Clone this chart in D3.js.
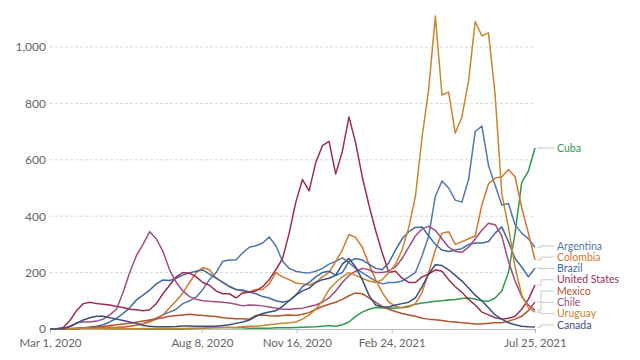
<!DOCTYPE html>
<html><head><meta charset="utf-8">
<script src="https://cdn.jsdelivr.net/npm/d3@7"></script>
<style>
html,body{margin:0;padding:0;background:#fff;}
svg{display:block;font-family:Lato,"Noto Sans",sans-serif;}
</style></head><body>
<svg id="chart" width="640" height="360"></svg>
<script>
// ---- data: weekly 7-day average of daily new cases per million, Mar 1 2020 .. Jul 25 2021
const startDate = "2020-03-01";
const endDate = "2021-07-25";
const countries = ["Cuba","Argentina","Colombia","Brazil","United States","Mexico","Chile","Uruguay","Canada"];
const cuba = [0,0,0,1,2,3,4,4,3,2, 1,1,1,1,0,0,0,0,0,0, 0,1,2,3,4,5,5,5,4,4, 3,3,3,3,4,4,4,5,6,7,
  8,10,12,10,15,25,45,60,70,76, 75,74,74,76,82,88,92,95,98,100, 103,105,108,110,106,100,98,110,135,200, 340,520,560,642];
const argentina = [0,0,0,1,2,2,2,2,3,4, 5,7,10,14,20,28,38,50,60,70, 90,100,113,140,175,200,240,245,245,270,
  290,295,305,326,295,240,215,205,200,199, 205,215,230,240,252,235,215,200,185,170, 160,165,165,170,185,200,260,330,470,525,
  500,457,450,530,700,720,580,510,440,445, 370,340,320,290];
const colombia = [0,0,0,1,2,3,3,4,5,7, 5,7,10,13,18,25,35,50,75,100, 128,165,200,218,210,181,165,152,140,135,
  131,140,140,160,200,185,175,163,160,156, 165,185,200,240,280,335,325,290,230,175, 130,95,80,75,78,90,130,200,280,340,
  345,300,310,320,330,440,515,535,540,565, 540,430,340,245];
const brazil = [0,0,0,1,2,4,7,10,15,25, 38,55,75,103,120,138,160,174,172,180, 191,199,205,210,195,180,165,150,140,138,
  131,125,115,110,100,95,100,120,150,165, 185,200,205,190,200,240,250,245,230,215, 210,235,280,320,345,360,362,330,300,280,
  275,280,285,300,305,305,310,340,362,310, 250,220,185,216];
const unitedStates = [0,1,5,30,65,90,95,90,88,85, 80,76,70,68,65,68,90,125,155,185, 200,198,185,165,155,135,125,125,110,128,
  130,135,150,175,210,250,340,450,530,490, 590,650,665,550,630,752,660,540,440,350, 270,200,205,180,165,165,185,195,210,205,
  175,150,130,105,85,60,50,40,35,38, 45,70,105,156];
const mexico = [0,0,0,1,2,3,5,7,9,12, 15,18,20,24,28,32,36,40,45,48, 50,52,50,48,46,44,40,38,36,36,
  35,48,50,47,46,48,50,48,52,58, 70,80,88,95,105,118,128,125,110,95, 80,70,62,55,50,45,38,35,33,30,
  27,25,22,20,18,18,20,22,22,28, 35,45,65,96];
const chile = [0,0,1,10,22,25,25,28,35,50, 70,130,200,260,300,345,320,275,210,165, 135,115,105,100,98,97,95,92,88,82,
  85,84,82,78,74,70,70,72,74,80, 85,95,110,135,165,190,205,215,210,200, 200,205,220,250,290,330,355,365,350,320,
  290,275,272,290,320,350,375,370,330,240, 170,115,85,67];
const uruguay = [0,0,0,1,2,3,3,2,1,1, 1,1,1,1,2,2,2,2,2,2, 2,3,3,3,4,4,5,5,6,8, 10,10,12,15,18,20,22,25,35,50,
  70,100,140,165,185,200,190,180,170,165, 175,200,230,280,360,470,680,850,1110,830,
  840,695,752,880,1090,1040,1050,830,480,360, 220,120,75,60];
const canada = [0,0,2,8,20,32,40,45,45,40, 35,30,25,20,12,10,8,8,8,9, 11,11,10,10,10,10,12,15,20,25,
  32,45,55,60,65,80,100,120,135,145, 165,175,180,190,230,250,220,175,120,85, 78,78,85,90,95,110,150,195,228,225,
  210,190,170,145,120,100,75,50,35,22, 15,10,8,7];
const yTicks = [0,200,400,600,800,1000];
const xTickLabels = ["Mar 1, 2020","Aug 8, 2020","Nov 16, 2020","Feb 24, 2021","Jul 25, 2021"];

// ---- styles
const colorOf = {
  "Cuba":"#2f9a4c","Argentina":"#5476b0","Colombia":"#d4772c","Brazil":"#3c69a8",
  "United States":"#9b2e4f","Mexico":"#b5532e","Chile":"#a14c85","Uruguay":"#c9862a","Canada":"#3c4e7d"
};
const valuesOf = {"Cuba":cuba,"Argentina":argentina,"Colombia":colombia,"Brazil":brazil,"United States":unitedStates,
  "Mexico":mexico,"Chile":chile,"Uruguay":uruguay,"Canada":canada};

const parse = d3.timeParse("%Y-%m-%d");
const t0 = parse(startDate), t1 = parse(endDate);
const series = countries.map(name => ({
  name, color: colorOf[name],
  points: valuesOf[name].map((v,i) => ({date: d3.timeDay.offset(t0, 7*i), value: v}))
}));

const svg = d3.select("#chart");
const x = d3.scaleTime().domain([t0, t1]).range([50, 535]);
const y = d3.scaleLinear().domain([0, 1000]).range([329, 47]);

// gridlines
svg.append("g").selectAll("line").data(yTicks.filter(d => d > 0)).join("line")
  .attr("x1", 50).attr("x2", 535).attr("y1", d => y(d)).attr("y2", d => y(d))
  .attr("stroke", "#d9d9d9").attr("stroke-dasharray", "3,2").attr("stroke-width", 1);

// y axis labels
const yAxis = svg.append("g").attr("transform", "translate(46,0)")
  .call(d3.axisLeft(y).tickValues(yTicks).tickFormat(d3.format(",")).tickSize(0).tickPadding(0));
yAxis.select(".domain").remove();
yAxis.selectAll("text").attr("fill", "#666").style("font-size", "12px").style("font-family", "Lato,sans-serif");

// x axis
const fmt = d3.timeFormat("%b %-d, %Y");
const xTickDates = xTickLabels.map(s => d3.timeParse("%b %d, %Y")(s));
const xAxis = svg.append("g").attr("transform", "translate(0,329)")
  .call(d3.axisBottom(x).tickValues(xTickDates).tickFormat(fmt).tickSize(4).tickSizeOuter(0).tickPadding(6));
xAxis.select(".domain").attr("stroke", "#bbb");
xAxis.selectAll(".tick line").attr("stroke", "#bbb");
xAxis.selectAll("text").attr("fill", "#666").style("font-size", "11.5px").style("font-family", "Lato,sans-serif");

// lines
const line = d3.line().x(d => x(d.date)).y(d => y(d.value)).curve(d3.curveLinear);
svg.append("g").selectAll("path").data(series).join("path")
  .attr("d", d => line(d.points)).attr("fill", "none")
  .attr("stroke", d => d.color).attr("stroke-width", 1.5).attr("stroke-linejoin", "round");

// end labels with dodge
const spacing = 11.3, maxY = 325;
const labels = series.map(s => ({name: s.name, color: s.color, endY: y(s.points[s.points.length-1].value)}))
  .sort((a,b) => a.endY - b.endY);
labels.forEach((l,i) => { l.ly = i === 0 ? l.endY : Math.max(l.endY, labels[i-1].ly + spacing); });
for (let i = labels.length - 1; i >= 0; i--) {
  const lim = i === labels.length - 1 ? maxY : labels[i+1].ly - spacing;
  labels[i].ly = Math.min(labels[i].ly, lim);
}
const xEnd = x(t1);
const lg = svg.append("g");
lg.selectAll("path").data(labels).join("path")
  .attr("d", d => `M${xEnd+2},${d.endY}H${xEnd+6}V${d.ly}H${xEnd+19}`)
  .attr("fill", "none").attr("stroke", "#c8c8c8").attr("stroke-width", 1);
lg.selectAll("text").data(labels).join("text")
  .attr("x", xEnd + 22).attr("y", d => d.ly).attr("dy", "0.35em")
  .attr("fill", d => d.color).style("font-size", "10.5px").text(d => d.name);
</script>
</body></html>
